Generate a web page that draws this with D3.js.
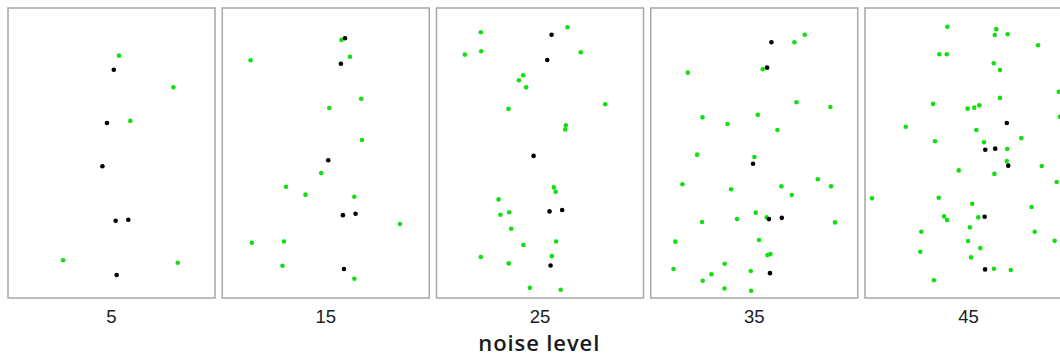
<!DOCTYPE html>
<html>
<head>
<meta charset="utf-8">
<script src="https://cdn.jsdelivr.net/npm/d3@7"></script>
<style>
  html, body { margin: 0; padding: 0; background: #fff; }
  svg { display: block; }
</style>
</head>
<body>
<svg id="chart" width="1060" height="358"></svg>
<script>
// Noise levels, one panel each
const noiseLevels = [5, 15, 25, 35, 45];

// Reference points [x, y] for each noise level
const signal5 = [[1.1, 40.2], [-2.2, 14.5], [-4.4, -6.4], [2.0, -32.7], [8.1, -32.2], [2.5, -58.9]];
const signal15 = [[9.3, 55.4], [7.3, 43.1], [1.2, -3.5], [8.3, -30.0], [14.4, -29.3], [8.8, -56.0]];
const signal25 = [[5.6, 57.1], [3.5, 44.9], [-3.1, -1.4], [4.6, -28.2], [10.7, -27.5], [5.1, -54.3]];
const signal35 = [[8.3, 53.5], [6.2, 41.2], [-0.6, -5.2], [7.1, -31.9], [13.3, -31.3], [7.6, -58.0]];
const signal45 = [[18.5, 14.5], [8.1, 1.6], [12.9, 2.1], [19.2, -6.1], [7.8, -30.8], [8.0, -56.2]];

// Noise points [x, y] for each noise level
const noise5 = [[3.6, 47.0], [29.9, 31.7], [9.1, 15.5], [-23.4, -51.8], [32.0, -53.0]];
const noise15 = [
  [7.6, 54.6], [11.7, 46.5], [-36.3, 44.8], [17.1, 26.2], [1.7, 21.7], [17.5, 6.3],
  [-2.2, -9.7], [-19.2, -16.3], [-9.8, -20.1], [13.8, -21.1], [35.8, -34.3],
  [-35.7, -43.3], [-20.2, -42.7], [-20.9, -54.4], [13.8, -60.7]
];
const noise25 = [
  [13.3, 60.7], [-28.6, 58.3], [-28.4, 49.1], [19.7, 48.6], [-36.3, 47.5], [-8.1, 37.5],
  [-10.2, 35.1], [-6.7, 31.7], [31.5, 23.5], [-15.2, 21.3], [12.5, 13.4], [12.2, 11.4],
  [6.7, -16.6], [7.6, -18.7], [-20.0, -22.4], [-14.9, -28.6], [-19.1, -29.8],
  [-13.9, -36.6], [7.8, -42.7], [-8.0, -44.4], [-28.6, -50.2], [5.7, -49.8],
  [-15.1, -53.3], [-4.9, -65.1], [10.0, -66.0]
];
const noise35 = [
  [24.4, 57.1], [19.4, 53.5], [-32.1, 38.8], [4.1, 40.4], [20.4, 24.5], [36.8, 22.2],
  [-25.0, 17.2], [1.7, 18.5], [-12.9, 14.0], [11.2, 11.1], [-27.6, -0.8], [0.1, -1.9],
  [30.7, -12.7], [-34.7, -15.1], [13.1, -16.1], [37.1, -16.1], [-11.2, -17.5],
  [18.1, -20.3], [0.7, -28.8], [6.0, -31.1], [-8.3, -31.9], [-25.2, -33.3],
  [39.0, -33.5], [-38.1, -42.8], [2.3, -42.0], [6.4, -49.3], [7.8, -48.8],
  [-14.3, -53.5], [-39.0, -56.0], [-1.7, -57.0], [-20.7, -58.5], [-24.9, -61.7],
  [-14.4, -65.4], [-1.5, -66.5]
];
const noise45 = [
  [-10.2, 60.9], [13.4, 59.8], [12.7, 57.0], [18.9, 57.3], [33.6, 52.0], [-14.1, 47.7],
  [-10.5, 47.7], [12.2, 43.3], [15.2, 40.1], [43.6, 29.6], [15.2, 26.6], [-17.1, 23.7],
  [-0.4, 21.4], [2.8, 21.9], [5.2, 23.0], [44.1, 17.5], [-30.3, 12.7], [3.8, 11.1],
  [25.5, 7.2], [-16.2, 5.7], [7.5, 5.2], [18.7, 1.9], [18.5, -3.9], [35.4, -6.3],
  [-4.7, -8.4], [12.5, -10.1], [42.6, -14.0], [-46.6, -21.9], [-14.4, -21.6],
  [1.8, -24.5], [30.5, -26.1], [-11.8, -30.6], [-10.4, -32.4], [4.7, -31.1],
  [0.7, -35.9], [-22.8, -38.0], [32.0, -38.0], [-0.2, -42.5], [41.6, -42.4],
  [5.7, -45.9], [-23.3, -47.7], [1.2, -50.4], [12.3, -55.9], [20.4, -56.5], [-16.7, -61.4]
];

const signalSets = [signal5, signal15, signal25, signal35, signal45];
const noiseSets = [noise5, noise15, noise25, noise35, noise45];

const axisTitle = "noise level";

// Layout
const svg = d3.select("#chart");
const panelTop = 8;
const panelHeight = 290;
const panelWidth = 207;
const step = 214.25;
const gap = step - panelWidth;
const left = 8;

const panel = d3.scaleBand()
  .domain(noiseLevels.map(String))
  .range([left, left + (noiseLevels.length - 1) * step + panelWidth])
  .paddingInner(gap / step)
  .paddingOuter(0);

const bw = panel.bandwidth();
const x = d3.scaleLinear().domain([-50, 50]).range([0, bw]);
const y = d3.scaleLinear().domain([-70, 70]).range([panelHeight, 0]);

const panels = svg.selectAll("g.panel")
  .data(noiseLevels.map((lvl, i) => ({ lvl, signal: signalSets[i], noise: noiseSets[i] })))
  .join("g")
  .attr("class", "panel")
  .attr("transform", d => `translate(${panel(String(d.lvl))},${panelTop})`);

panels.append("rect")
  .attr("width", bw)
  .attr("height", panelHeight)
  .attr("fill", "#fff")
  .attr("stroke", "#acacac")
  .attr("stroke-width", 1.6);

panels.selectAll("circle.noise")
  .data(d => d.noise)
  .join("circle")
  .attr("class", "noise")
  .attr("cx", d => x(d[0]))
  .attr("cy", d => y(d[1]))
  .attr("r", 2.3)
  .attr("fill", "#10e010");

panels.selectAll("circle.signal")
  .data(d => d.signal)
  .join("circle")
  .attr("class", "signal")
  .attr("cx", d => x(d[0]))
  .attr("cy", d => y(d[1]))
  .attr("r", 2.3)
  .attr("fill", "#000");

// Panel labels
const axis = d3.axisBottom(panel).tickSize(0).tickPadding(0);
const axisG = svg.append("g")
  .attr("transform", `translate(0,${panelTop + panelHeight + 12})`)
  .call(axis);
axisG.select(".domain").remove();
axisG.selectAll("text")
  .attr("font-family", "'Liberation Sans', Arial, sans-serif")
  .attr("font-size", 18.5)
  .attr("fill", "#222");

// Axis title
svg.append("text")
  .attr("x", 538.8)
  .attr("y", 351)
  .attr("text-anchor", "middle")
  .attr("font-family", "'Open Sans', sans-serif")
  .attr("font-weight", 600)
  .attr("font-size", 22)
  .attr("fill", "#1a1a1a")
  .attr("textLength", 121)
  .attr("lengthAdjust", "spacing")
  .text(axisTitle);
</script>
</body>
</html>
